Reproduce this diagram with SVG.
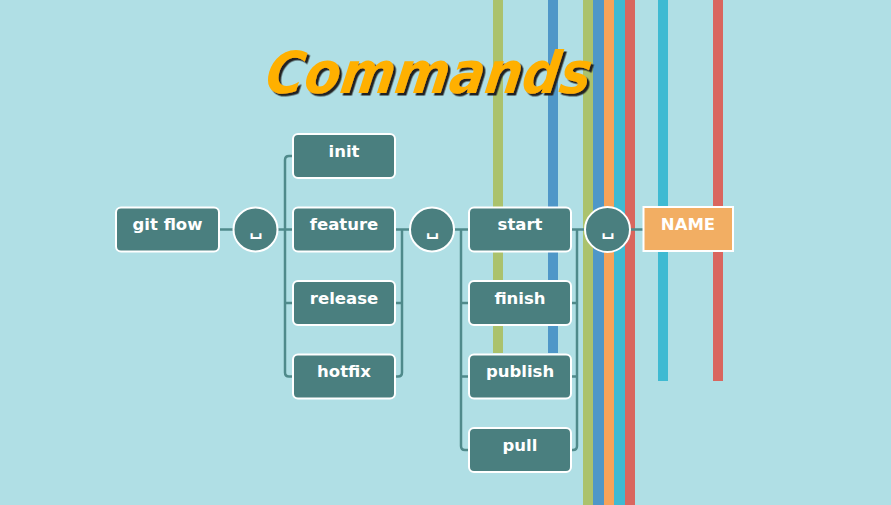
<svg xmlns="http://www.w3.org/2000/svg" width="891" height="505" viewBox="0 0 891 505">
<defs>
<style>
.bg{fill:#b0dfe5}
.node rect{fill:#4a7f7f;stroke:#ffffff;stroke-width:2}
.node circle{fill:#4a7f7f;stroke:#ffffff;stroke-width:2}
.node text{font-family:"DejaVu Sans",Verdana,sans-serif;font-weight:bold;font-size:16.5px;fill:#ffffff;text-anchor:middle}
.node text.sym{font-size:18px}
#name rect{fill:#f2ae63;stroke:#ffffff;stroke-width:2}
#connectors path{fill:none;stroke:#4f8a8b;stroke-width:2.5}
.title{font-family:"DejaVu Sans",sans-serif;font-weight:bold;font-style:italic;font-size:58px;fill:#ffb000}
</style>
<filter id="shadow" x="-5%" y="-20%" width="110%" height="140%">
<feDropShadow dx="2.5" dy="2.5" stdDeviation="0.6" flood-color="#222222" flood-opacity="1"/>
</filter>
</defs>
<rect class="bg" x="0" y="0" width="891" height="505"/>
<g id="stripes">
<rect x="493" y="0" width="10" height="353" fill="#abc26d"/>
<rect x="548" y="0" width="10" height="353" fill="#4f97c8"/>
<rect x="583" y="0" width="10" height="505" fill="#abc26d"/>
<rect x="593" y="0" width="11" height="505" fill="#4f97c8"/>
<rect x="604" y="0" width="10" height="505" fill="#f6a35a"/>
<rect x="614" y="0" width="11" height="505" fill="#3fbad2"/>
<rect x="625" y="0" width="10" height="505" fill="#d9665f"/>
<rect x="658" y="0" width="10" height="381" fill="#3fbad2"/>
<rect x="713" y="0" width="10" height="381" fill="#d9665f"/>
</g>
<g id="title" filter="url(#shadow)">
<text class="title" x="277" y="93" textLength="325" lengthAdjust="spacingAndGlyphs" transform="skewX(-8)">Commands</text>
</g>
<g id="connectors">
<path d="M219,229.5 H233"/>
<path d="M277,229.5 H293"/>
<path d="M293,156 H289 Q285,156 285,160 V372.5 Q285,376.5 289,376.5 H293"/>
<path d="M285,303 H293"/>
<path d="M395,229.5 H410"/>
<path d="M402,229.5 V372.5 Q402,376.5 398,376.5 H395"/>
<path d="M395,303 H402"/>
<path d="M454,229.5 H469"/>
<path d="M461,229.5 V446 Q461,450 465,450 H469"/>
<path d="M461,303 H469"/>
<path d="M461,376.5 H469"/>
<path d="M571,229.5 H585"/>
<path d="M577,229.5 V446 Q577,450 573,450 H571"/>
<path d="M571,303 H577"/>
<path d="M571,376.5 H577"/>
<path d="M630,229.5 H643"/>
</g>
<g id="gitflow" class="node"><rect x="116" y="207.5" width="103" height="44" rx="5"/><text x="167.5" y="230">git flow</text></g>
<g id="sp1" class="node"><circle cx="255.5" cy="229.5" r="22"/><text class="sym" x="256" y="235">␣</text></g>
<g id="init" class="node"><rect x="293" y="134" width="102" height="44" rx="5"/><text x="344" y="157">init</text></g>
<g id="feature" class="node"><rect x="293" y="207.5" width="102" height="44" rx="5"/><text x="344" y="230">feature</text></g>
<g id="release" class="node"><rect x="293" y="281" width="102" height="44" rx="5"/><text x="344" y="304">release</text></g>
<g id="hotfix" class="node"><rect x="293" y="354.5" width="102" height="44" rx="5"/><text x="344" y="377">hotfix</text></g>
<g id="sp2" class="node"><circle cx="432" cy="229.5" r="22"/><text class="sym" x="432.5" y="235">␣</text></g>
<g id="start" class="node"><rect x="469" y="207.5" width="102" height="44" rx="5"/><text x="520" y="230">start</text></g>
<g id="finish" class="node"><rect x="469" y="281" width="102" height="44" rx="5"/><text x="520" y="304">finish</text></g>
<g id="publish" class="node"><rect x="469" y="354.5" width="102" height="44" rx="5"/><text x="520" y="377">publish</text></g>
<g id="pull" class="node"><rect x="469" y="428" width="102" height="44" rx="5"/><text x="520" y="451">pull</text></g>
<g id="sp3" class="node"><circle cx="607.5" cy="229.5" r="22.5"/><text class="sym" x="608" y="235">␣</text></g>
<g id="name" class="node"><rect x="643.5" y="207" width="89.5" height="44"/><text x="688" y="230">NAME</text></g>
</svg>
